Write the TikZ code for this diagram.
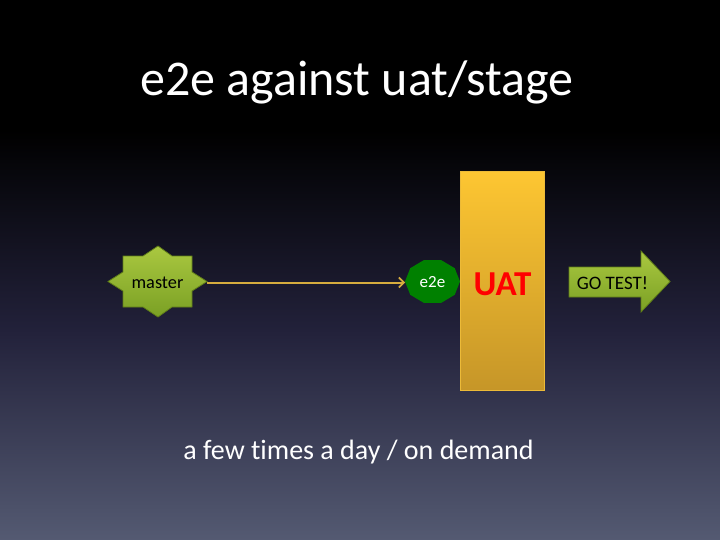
\documentclass[tikz,border=0pt]{standalone}
\usepackage{fontspec}
\setmainfont{Carlito}[Ligatures=NoCommon]
\usetikzlibrary{arrows.meta,calc}
\definecolor{bgbot}{RGB}{84,90,114}
\definecolor{bgmid}{RGB}{34,33,58}
\definecolor{gold}{RGB}{214,172,62}
\definecolor{olivetop}{RGB}{170,200,64}
\definecolor{olivebot}{RGB}{122,160,36}
\definecolor{oliveedge}{RGB}{96,126,24}
\definecolor{uattop}{RGB}{253,198,50}
\definecolor{uatbot}{RGB}{198,150,40}
\definecolor{uatedge}{RGB}{236,186,56}
\definecolor{e2egreen}{RGB}{0,128,0}
\tikzset{
  txt/.style={inner sep=0pt, outer sep=0pt},
  greenshape/.style={top color=olivetop, bottom color=olivebot, draw=oliveedge, line width=0.8pt},
  link/.style={draw=gold, line width=2pt, -{Straight Barb[length=5pt,width=10pt,line width=1.6pt]}},
}
\begin{document}
\begin{tikzpicture}[x=1pt,y=-1pt]
\useasboundingbox (0,0) rectangle (720,540);
% background
\fill[black] (0,0) rectangle (720,131);
\shade[top color=black, bottom color=bgmid] (0,130) rectangle (720,330);
\shade[top color=bgmid, bottom color=bgbot] (0,329.5) rectangle (720,540);
% title
\node[txt, text=white, font=\fontsize{50}{58}\selectfont, anchor=base] (title) at (357,96) {e2e against uat/stage};
% master star
\path[greenshape] (108,281.5) -- (123,272) -- (123,256) -- (143,256) -- (158,246) -- (172,256) -- (192,256) -- (192,272) -- (207,281.5) -- (192,291) -- (192,307) -- (172,307) -- (158,317) -- (143,307) -- (123,307) -- (123,291) -- cycle;
\node[txt, minimum width=99pt, minimum height=40pt, font=\fontsize{18.3}{20}\selectfont] (master) at (157.5,282.5) {master};
% e2e decagon
\fill[e2egreen] (460,281.5) \foreach \k in {1,...,9} { -- ({432.5+27.5*cos(36*\k)},{281.5-22.6*sin(36*\k)}) } -- cycle;
\node[txt, minimum width=55pt, minimum height=43pt, text=white, font=\fontsize{17}{18}\selectfont] (e2e) at (432.5,282.5) {e2e};
% connector
\draw[link] (master.east) -- (e2e.west);
% UAT box
\node[txt, top color=uattop, bottom color=uatbot, draw=uatedge, line width=1pt, minimum width=84pt, minimum height=218pt] (uat) at (502,281) {};
\node[txt, text=red, font=\fontsize{35}{36}\bfseries\selectfont] (uatlabel) at (502.5,284) {UAT};
% GO TEST arrow
\path[greenshape] (569,267) -- (641,267) -- (641,251) -- (670,281.5) -- (641,312) -- (641,297) -- (569,297) -- cycle;
\node[txt, font=\fontsize{19}{20}\selectfont] (go) at (612.5,283) {GO TEST!};
% bottom text
\node[txt, text=white, font=\fontsize{28}{30}\selectfont, anchor=base] (freq) at (358.5,459) {a few times a day / on demand};
\end{tikzpicture}
\end{document}
